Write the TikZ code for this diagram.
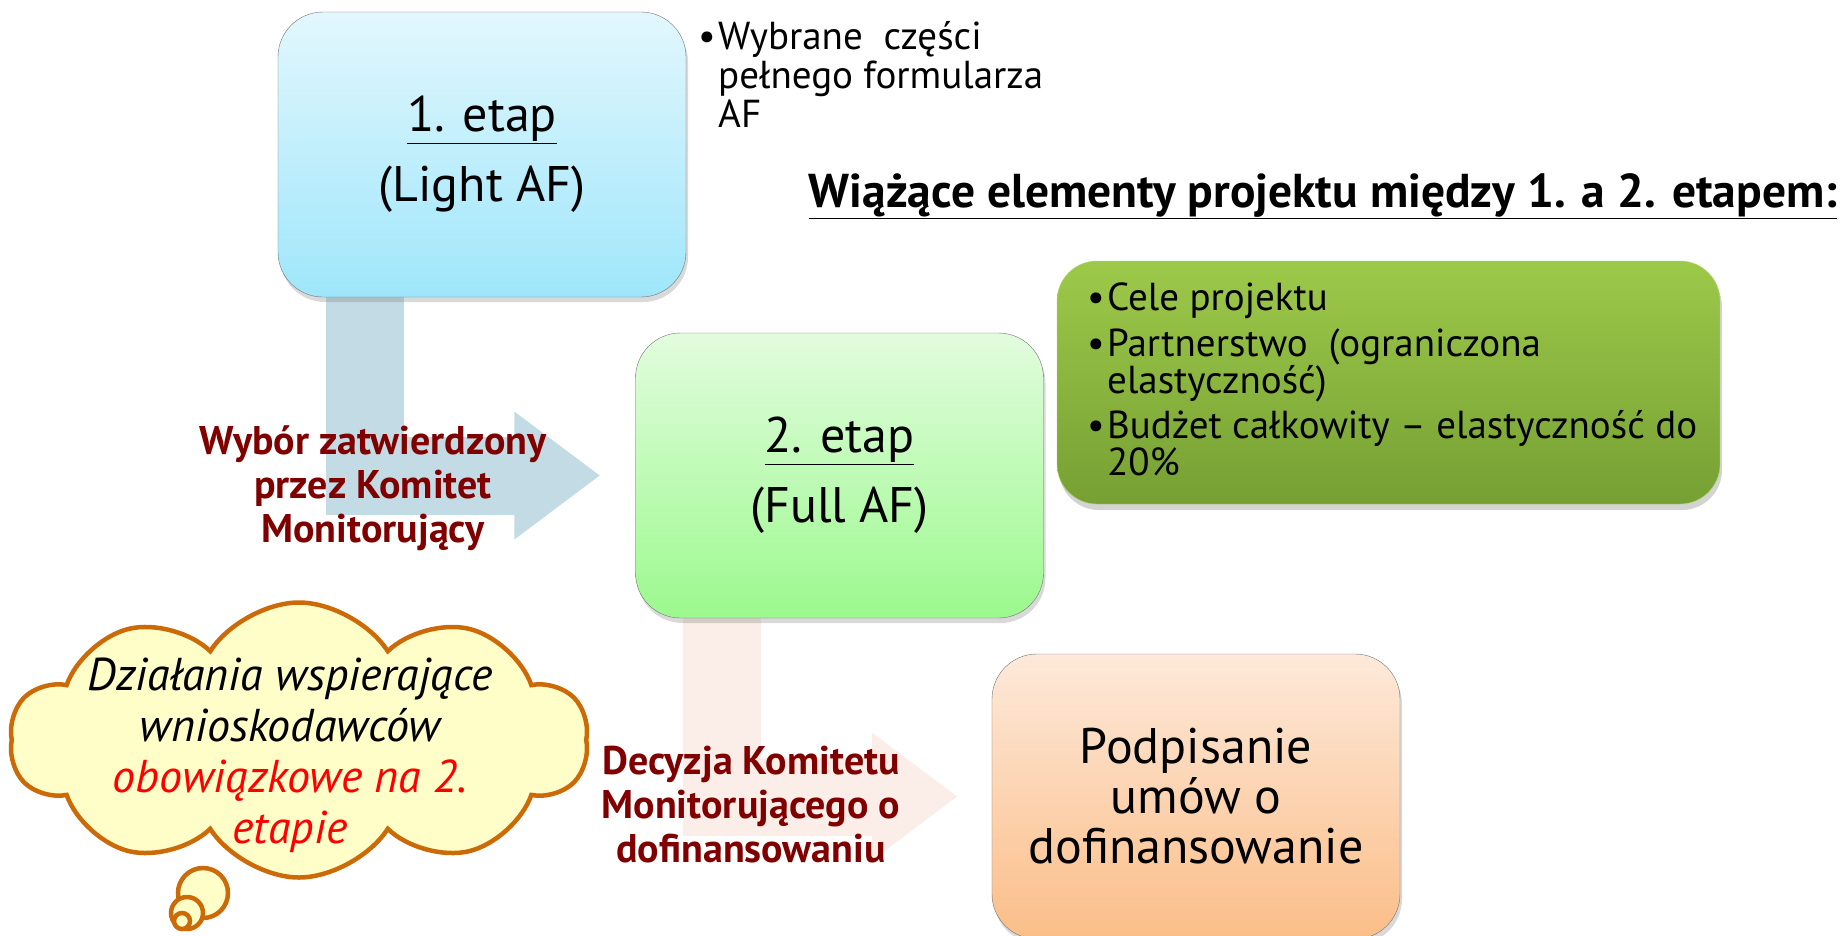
\documentclass[tikz,border=0pt]{standalone}
\usepackage{fontspec}
\setmainfont{PT Sans}
\usepackage{xcolor}
\usetikzlibrary{arrows.meta,shapes.symbols,shadows,backgrounds}

\definecolor{skytop}{HTML}{E2F7FD}
\definecolor{skybot}{HTML}{9FE6FB}
\definecolor{minttop}{HTML}{E2FCDE}
\definecolor{mintbot}{HTML}{9CF98E}
\definecolor{peachtop}{HTML}{FDE9DA}
\definecolor{peachbot}{HTML}{FBBE88}
\definecolor{olivetop}{HTML}{9DC94A}
\definecolor{olivebot}{HTML}{76A033}
\definecolor{stemblue}{HTML}{C2DBE4}
\definecolor{stempink}{HTML}{FBEDE8}
\definecolor{labelred}{HTML}{800000}
\definecolor{cloudfill}{HTML}{FFFDC8}
\definecolor{cloudline}{HTML}{CC6A08}

\newcommand{\punkt}{\makebox[20pt][l]{\textbullet}}
\newcommand{\wciecie}{\hspace*{20pt}}

\begin{document}
\begin{tikzpicture}[x=1pt, y=1pt,
  stage/.style={draw=black!55, rounded corners=45pt, align=center,
    minimum width=408pt, minimum height=285pt,
    drop shadow={opacity=0.3, shadow xshift=2pt, shadow yshift=-5pt},
    font=\fontsize{50}{70}\selectfont},
  flow/.style={line width=78pt, line join=miter,
    -{Triangle[length=86pt, width=122pt]}},
  decision/.style={text=labelred, align=center,
    font=\bfseries\fontsize{40}{44}\selectfont},
  bullets/.style={align=left, anchor=north west, inner sep=0pt,
    font=\fontsize{39}{39}\selectfont},
  bubble/.style={draw=cloudline, fill=cloudfill, line width=4.5pt},
]

\useasboundingbox (0,0) rectangle (1845,-935);

% stages
\node[stage, top color=skytop, bottom color=skybot] (etap1) at (482,-154.5)
  {\underline{1. etap}\\(Light AF)};
\node[stage, top color=minttop, bottom color=mintbot] (etap2) at (839.5,-475.5)
  {\underline{2. etap}\\(Full AF)};
\node[stage, top color=peachtop, bottom color=peachbot, font=\fontsize{50}{50}\selectfont]
  (umowy) at (1196,-796.5) {Podpisanie\\umów o\\dofinansowanie};

% bent arrows behind the boxes
\begin{scope}[on background layer]
\draw[flow, stemblue, shorten >=35pt] ([xshift=-117pt]etap1.south) |- (etap2.west);
\draw[flow, stempink, shorten >=34pt] ([xshift=-118pt]etap2.south) |- (umowy.west);
\end{scope}

\node[decision] (wybor) at (373,-488) {Wybór zatwierdzony\\przez Komitet\\Monitorujący};
\node[decision] (decyzja) at (751,-805) {Decyzja Komitetu\\Monitorującego o\\dofinansowaniu};

% light AF contents
\node[bullets] (czesci) at (698,-21)
  {\punkt Wybrane~ części\\\wciecie pełnego formularza\\\wciecie AF};

\node[font=\bfseries\fontsize{47.5}{50}\selectfont] (tytul) at (1323,-196)
  {\underline{Wiążące elementy projektu między 1. a 2. etapem:}};

\node[draw=olivetop!80!white, top color=olivetop, bottom color=olivebot,
  rounded corners=40pt, minimum width=663pt, minimum height=243pt,
  drop shadow={opacity=0.35, shadow xshift=2pt, shadow yshift=-6pt}] (wiazace) at (1388.5,-382.5) {};
\node[bullets, font=\fontsize{39}{37}\selectfont] (lista) at (1087,-283)
  {\punkt Cele projektu\\[9pt]
   \punkt Partnerstwo~ (ograniczona\\\wciecie elastyczność)\\[8pt]
   \punkt Budżet całkowity – elastyczność do\\\wciecie 20\%};

% thought cloud
\draw[bubble] (203,-893) circle (25pt);
\draw[bubble] (187,-913) circle (16pt);
\draw[bubble] (182,-921) circle (8pt);
\node[cloud, bubble, cloud puffs=10, cloud puff arc=115, aspect=2,
  minimum width=578pt, minimum height=275pt] (chmura) at (299,-740) {};
\node[align=center, font=\itshape\fontsize{46}{51}\selectfont] (wsparcie) at (290,-755)
  {Działania wspierające\\wnioskodawców\\\textcolor{red}{obowiązkowe na 2.}\\\textcolor{red}{etapie}};

\end{tikzpicture}
\end{document}
